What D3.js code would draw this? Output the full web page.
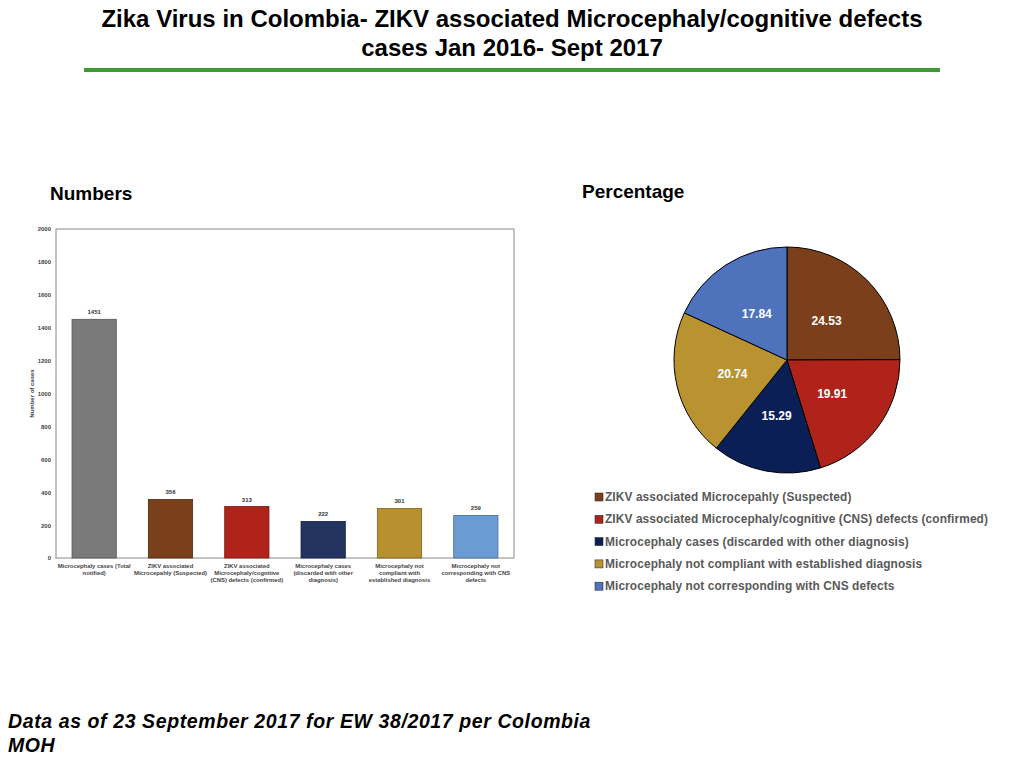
<!DOCTYPE html>
<html><head><meta charset="utf-8">
<script src="https://cdn.jsdelivr.net/npm/d3@7"></script>
<style>body{margin:0;background:#fff;}svg{display:block;}</style>
</head><body>
<script>
const barCategories = [
  ["Microcephaly cases (Total","notified)"],
  ["ZIKV associated","Microcepahly (Suspected)"],
  ["ZIKV associated","Microcephaly/cognitive","(CNS) defects (confirmed)"],
  ["Microcephaly cases","(discarded with other","diagnosis)"],
  ["Microcephaly not","compliant with","established diagnosis"],
  ["Microcephaly not","corresponding with  CNS","defects"]
];
const barValues = [1451, 356, 313, 222, 301, 259];
const barColors = ["#7a7a7a", "#7a3f1b", "#b0231a", "#243460", "#b8912f", "#6a9bd1"];
const barStrokes = ["#555555", "#4e2810", "#7a1812", "#141e3a", "#7a6020", "#4a6f99"];
const yTicks = [0, 200, 400, 600, 800, 1000, 1200, 1400, 1600, 1800, 2000];

const pieLabels = [
  "ZIKV associated Microcepahly (Suspected)",
  "ZIKV associated Microcephaly/cognitive (CNS) defects (confirmed)",
  "Microcephaly cases (discarded with other diagnosis)",
  "Microcephaly not compliant with established diagnosis",
  "Microcephaly not corresponding with CNS defects"
];
const pieValues = [24.53, 19.91, 15.29, 20.74, 17.84];
const pieColors = ["#7b3f1b", "#b0231a", "#0b1f57", "#b8932f", "#4f72bd"];

const W = 1024, H = 768;
const svg = d3.select("body").append("svg").attr("width", W).attr("height", H);
const narrow = "'Liberation Sans Narrow','Arial Narrow','Liberation Sans',Arial,sans-serif";
const sans = "'Liberation Sans',Arial,Helvetica,sans-serif";

// Title
const title = svg.append("text").attr("x", 512).attr("text-anchor", "middle")
  .attr("font-family", narrow).attr("font-weight", "bold").attr("font-size", 24).attr("fill", "#000");
title.append("tspan").attr("x", 512).attr("y", 27).text("Zika Virus in Colombia- ZIKV associated Microcephaly/cognitive defects");
title.append("tspan").attr("x", 512).attr("y", 56).text("cases Jan 2016- Sept 2017");
svg.append("rect").attr("x", 84).attr("y", 68).attr("width", 856).attr("height", 4).attr("fill", "#3e9a32");

// Section headings
svg.append("text").attr("x", 50).attr("y", 200).attr("font-family", sans).attr("font-weight", "bold")
  .attr("font-size", 19).text("Numbers");
svg.append("text").attr("x", 582).attr("y", 198).attr("font-family", sans).attr("font-weight", "bold")
  .attr("font-size", 19).text("Percentage");

// Bar chart
const px0 = 56, px1 = 514, py0 = 229, py1 = 558;
const x = d3.scaleBand().domain(d3.range(barValues.length)).range([px0, px1]).paddingInner(0.42).paddingOuter(0.21);
const y = d3.scaleLinear().domain([0, 2000]).range([py1, py0]);

svg.append("rect").attr("x", px0).attr("y", py0).attr("width", px1 - px0).attr("height", py1 - py0)
  .attr("fill", "none").attr("stroke", "#888").attr("stroke-width", 1);

const yAxis = svg.append("g").attr("transform", `translate(${px0},0)`)
  .call(d3.axisLeft(y).tickValues(yTicks).tickFormat(d3.format("d")).tickSize(0).tickPadding(5));
yAxis.select(".domain").remove();
yAxis.selectAll("text").attr("font-family", sans).attr("font-size", 6).attr("fill", "#444").attr("font-weight", "bold");

svg.append("text").attr("transform", `translate(34,${(py0 + py1) / 2}) rotate(-90)`).attr("text-anchor", "middle")
  .attr("font-family", sans).attr("font-size", 6).attr("font-weight", "bold").attr("fill", "#444").text("Number of cases");

svg.selectAll(".bar").data(barValues).enter().append("rect")
  .attr("x", (d, i) => x(i)).attr("y", d => y(d)).attr("width", x.bandwidth()).attr("height", d => y(0) - y(d))
  .attr("fill", (d, i) => barColors[i]).attr("stroke", (d, i) => barStrokes[i]).attr("stroke-width", 0.8);

svg.selectAll(".val").data(barValues).enter().append("text")
  .attr("x", (d, i) => x(i) + x.bandwidth() / 2).attr("y", d => y(d) - 5).attr("text-anchor", "middle")
  .attr("font-family", sans).attr("font-size", 6).attr("font-weight", "bold").attr("fill", "#333").text(d => d);

barCategories.forEach((lines, i) => {
  const t = svg.append("text").attr("text-anchor", "middle").attr("font-family", sans)
    .attr("font-size", 5.9).attr("font-weight", "bold").attr("fill", "#444");
  lines.forEach((ln, j) => t.append("tspan").attr("x", x(i) + x.bandwidth() / 2).attr("y", py1 + 10 + j * 7).text(ln));
});

// Pie chart
const cx = 787, cy = 360, R = 113;
const pie = d3.pie().sort(null).value(d => d);
const arc = d3.arc().innerRadius(0).outerRadius(R);
const labelArc = d3.arc().innerRadius(56).outerRadius(56);
const pg = svg.append("g").attr("transform", `translate(${cx},${cy})`);
const arcs = pie(pieValues);
pg.selectAll("path").data(arcs).enter().append("path").attr("d", arc)
  .attr("fill", (d, i) => pieColors[i]).attr("stroke", "#000").attr("stroke-width", 1);
pg.selectAll(".pl").data(arcs).enter().append("text")
  .attr("transform", d => `translate(${labelArc.centroid(d)})`).attr("text-anchor", "middle").attr("dy", "0.4em")
  .attr("font-family", sans).attr("font-weight", "bold").attr("font-size", 12).attr("fill", "#fff")
  .text(d => d.data.toFixed(2));

// Legend
const lg = svg.append("g");
pieLabels.forEach((lab, i) => {
  const ly = 497 + i * 22.3;
  lg.append("rect").attr("x", 595).attr("y", ly - 4).attr("width", 8).attr("height", 8)
    .attr("fill", pieColors[i]).attr("stroke", "#333").attr("stroke-width", 0.6);
  lg.append("text").attr("x", 605).attr("y", ly).attr("dy", "0.35em").attr("font-family", sans)
    .attr("font-weight", "bold").attr("font-size", 11.9).attr("letter-spacing", 0.1).attr("fill", "#595959").text(lab);
});

// Footer
const foot = svg.append("text").attr("font-family", sans).attr("font-weight", "bold").attr("font-style", "italic")
  .attr("font-size", 19.5).attr("letter-spacing", 0.6).attr("fill", "#000");
foot.append("tspan").attr("x", 8).attr("y", 728).text("Data as of 23 September 2017 for EW 38/2017 per Colombia");
foot.append("tspan").attr("x", 8).attr("y", 752).text("MOH");
</script>
</body></html>
